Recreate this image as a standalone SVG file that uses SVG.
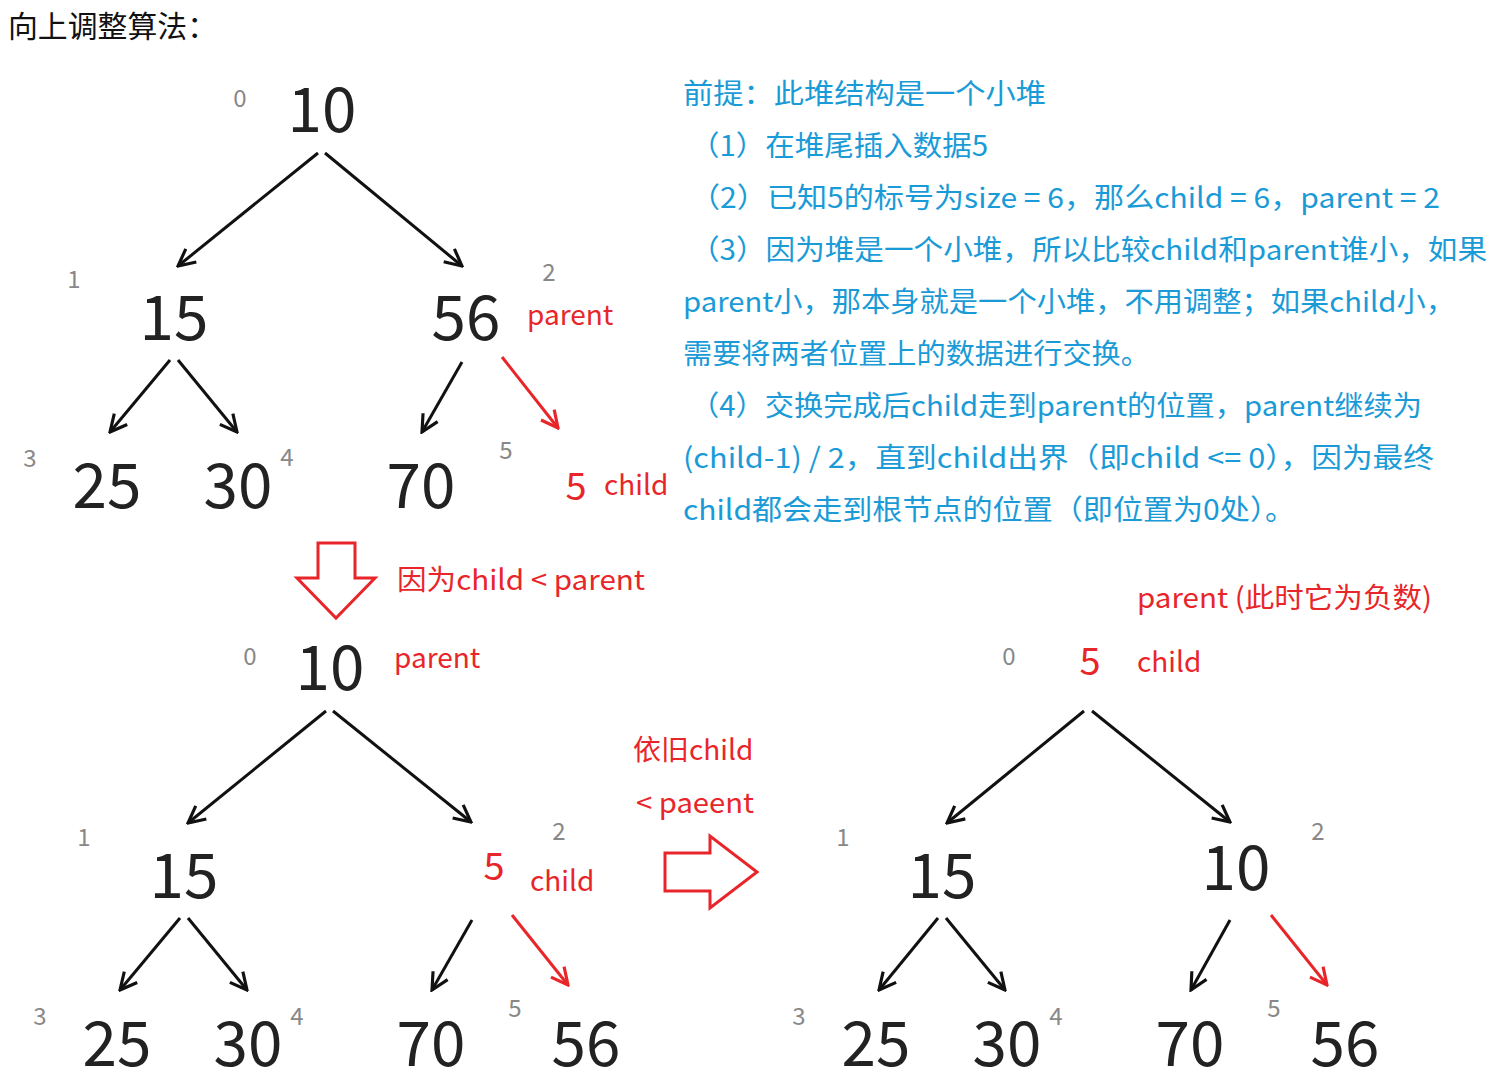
<svg xmlns="http://www.w3.org/2000/svg" width="1502" height="1084" viewBox="0 0 1502 1084">
<style>
text{font-family:"Noto Sans CJK SC","Noto Sans",sans-serif}
.n{font-size:62px;fill:#222;text-anchor:middle}
.i{font-size:24px;fill:#888;text-anchor:middle}
.r{fill:#e8262a;font-size:28px}
.rn{fill:#e8262a;font-size:38px;text-anchor:middle}
.b{fill:#1a9bd7;font-size:28px}
.e{stroke:#111;stroke-width:3;fill:none;marker-end:url(#a)}
.er{stroke:#e8262a;stroke-width:3;fill:none;marker-end:url(#ar)}
.h{fill:#fff;stroke:#e8262a;stroke-width:3}
</style>
<defs>
<marker id="a" viewBox="0 0 20 20" refX="18" refY="10" markerWidth="7" markerHeight="7" markerUnits="strokeWidth" orient="auto"><path d="M2 2L18 10L2 18" fill="none" stroke="#111" stroke-width="3"/></marker>
<marker id="ar" viewBox="0 0 20 20" refX="18" refY="10" markerWidth="7" markerHeight="7" markerUnits="strokeWidth" orient="auto"><path d="M2 2L18 10L2 18" fill="none" stroke="#e8262a" stroke-width="3"/></marker>
</defs>
<rect width="1502" height="1084" fill="#fff"/>
<text x="8" y="37" style="font-size:30px;fill:#111" textLength="209" lengthAdjust="spacingAndGlyphs">向上调整算法：</text>
<g id="connectors">
<path class="e" d="M318 153L178 266"/><path class="e" d="M325 153L462 266"/>
<path class="e" d="M170 360L110 432"/><path class="e" d="M178 360L237 432"/>
<path class="e" d="M462 362L422 432"/><path class="er" d="M502 357L558 428"/>
<path class="e" d="M326 711L188 823"/><path class="e" d="M333 711L471 822"/>
<path class="e" d="M180 918L120 990"/><path class="e" d="M188 918L247 990"/>
<path class="e" d="M472 920L432 990"/><path class="er" d="M512 915L568 985"/>
<path class="e" d="M1084 711L947 823"/><path class="e" d="M1092 711L1230 822"/>
<path class="e" d="M938 918L879 990"/><path class="e" d="M946 918L1005 990"/>
<path class="e" d="M1230 920L1191 990"/><path class="er" d="M1271 915L1327 985"/>
</g>
<g id="t1">
<g id="t1n0"><text class="n" x="322" y="132">10</text><text class="i" x="240" y="107">0</text></g>
<g id="t1n1"><text class="n" x="174" y="340">15</text><text class="i" x="74" y="288">1</text></g>
<g id="t1n2"><text class="n" x="466" y="340">56</text><text class="i" x="549" y="281">2</text><text class="r" x="527" y="325">parent</text></g>
<g id="t1n3"><text class="n" x="107" y="508">25</text><text class="i" x="30" y="467">3</text></g>
<g id="t1n4"><text class="n" x="238" y="508">30</text><text class="i" x="287" y="466">4</text></g>
<g id="t1n5"><text class="n" x="421" y="508">70</text><text class="i" x="506" y="459">5</text></g>
<g id="t1n6"><text class="rn" x="576" y="500">5</text><text class="r" x="604" y="495">child</text></g>
</g>
<g id="desc">
<text class="b" x="683" y="104" textLength="363" lengthAdjust="spacingAndGlyphs">前提：此堆结构是一个小堆</text>
<text class="b" x="690" y="156" textLength="298" lengthAdjust="spacingAndGlyphs">（1）在堆尾插入数据5</text>
<text class="b" x="690" y="208" textLength="750" lengthAdjust="spacingAndGlyphs">（2）已知5的标号为size = 6，那么child = 6，parent = 2</text>
<text class="b" x="690" y="260" textLength="797" lengthAdjust="spacingAndGlyphs">（3）因为堆是一个小堆，所以比较child和parent谁小，如果</text>
<text class="b" x="683" y="312" textLength="772" lengthAdjust="spacingAndGlyphs">parent小，那本身就是一个小堆，不用调整；如果child小，</text>
<text class="b" x="683" y="364" textLength="467" lengthAdjust="spacingAndGlyphs">需要将两者位置上的数据进行交换。</text>
<text class="b" x="690" y="416" textLength="732" lengthAdjust="spacingAndGlyphs">（4）交换完成后child走到parent的位置，parent继续为</text>
<text class="b" x="683" y="468" textLength="751" lengthAdjust="spacingAndGlyphs">(child-1) / 2，直到child出界（即child &lt;= 0），因为最终</text>
<text class="b" x="683" y="520" textLength="612" lengthAdjust="spacingAndGlyphs">child都会走到根节点的位置（即位置为0处）。</text>
</g>
<path class="h" d="M318 543H355V578H375L336 618L297 578H318Z"/>
<text class="r" x="397" y="590" textLength="248" lengthAdjust="spacingAndGlyphs">因为child &lt; parent</text>
<g id="t2">
<g id="t2n0"><text class="n" x="330" y="690">10</text><text class="i" x="250" y="665">0</text><text class="r" x="394" y="668">parent</text></g>
<g id="t2n1"><text class="n" x="184" y="898">15</text><text class="i" x="84" y="846">1</text></g>
<g id="t2n2"><text class="rn" x="494" y="880">5</text><text class="i" x="559" y="840">2</text><text class="r" x="530" y="891">child</text></g>
<g id="t2n3"><text class="n" x="117" y="1066">25</text><text class="i" x="40" y="1025">3</text></g>
<g id="t2n4"><text class="n" x="248" y="1066">30</text><text class="i" x="297" y="1025">4</text></g>
<g id="t2n5"><text class="n" x="431" y="1066">70</text><text class="i" x="515" y="1017">5</text></g>
<g id="t2n6"><text class="n" x="586" y="1066">56</text></g>
</g>
<text class="r" x="633" y="760">依旧child</text>
<text class="r" x="636" y="813" textLength="118" lengthAdjust="spacingAndGlyphs">&lt; paeent</text>
<path class="h" d="M665 853H710V836L757 872L710 908V891H665Z"/>
<g id="t3">
<g id="t3n0"><text class="rn" x="1090" y="675">5</text><text class="i" x="1009" y="665">0</text><text class="r" x="1137" y="672">child</text><text class="r" x="1137" y="608" textLength="295" lengthAdjust="spacingAndGlyphs">parent (此时它为负数)</text></g>
<g id="t3n1"><text class="n" x="942" y="898">15</text><text class="i" x="843" y="846">1</text></g>
<g id="t3n2"><text class="n" x="1236" y="890">10</text><text class="i" x="1318" y="840">2</text></g>
<g id="t3n3"><text class="n" x="876" y="1066">25</text><text class="i" x="799" y="1025">3</text></g>
<g id="t3n4"><text class="n" x="1007" y="1066">30</text><text class="i" x="1056" y="1025">4</text></g>
<g id="t3n5"><text class="n" x="1190" y="1066">70</text><text class="i" x="1274" y="1017">5</text></g>
<g id="t3n6"><text class="n" x="1345" y="1066">56</text></g>
</g>
</svg>
